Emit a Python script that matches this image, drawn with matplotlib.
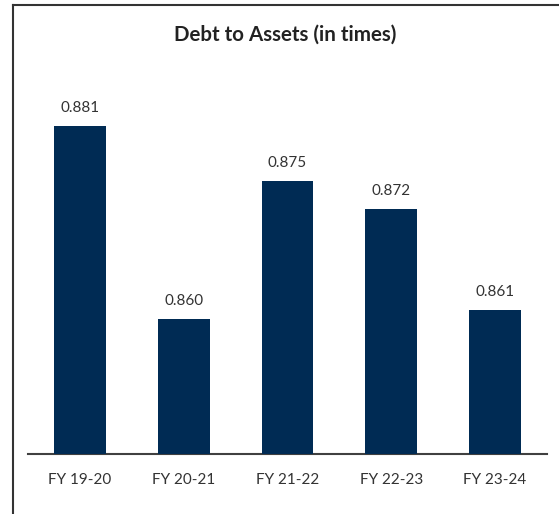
import numpy as np
import matplotlib.pyplot as plt
from matplotlib.lines import Line2D

plt.rcParams['font.family'] = ['Lato', 'DejaVu Sans']

years = ['FY 19-20', 'FY 20-21', 'FY 21-22', 'FY 22-23', 'FY 23-24']
debt_to_assets = [0.881, 0.860, 0.875, 0.872, 0.861]

bar_color = '#002b54'
text_color = '#333333'

fig = plt.figure(figsize=(5.59, 5.14), dpi=100)
ax = fig.add_axes([28 / 559, 60 / 514, 519 / 559, 354 / 514])

x = np.arange(len(years))
bars = ax.bar(x, debt_to_assets, width=0.5, color=bar_color, zorder=2)

for xi, v in zip(x, debt_to_assets):
    ax.annotate(f'{v:.3f}', (xi, v), xytext=(0, 8), textcoords='offset points',
                ha='center', va='bottom', fontsize=11, color=text_color)

ax.set_xlim(-0.5, 4.5)
ax.set_ylim(0.8454, 0.8838)
ax.set_xticks(x)
ax.set_xticklabels(years, fontsize=11, color=text_color)
ax.tick_params(axis='x', length=0, pad=14)
ax.set_yticks([])
for s in ['top', 'right', 'left']:
    ax.spines[s].set_visible(False)
ax.spines['bottom'].set_color('#404040')
ax.spines['bottom'].set_linewidth(1.5)
ax.spines['bottom'].set_zorder(1)

fig.text(285.5 / 559, 1 - 35 / 514, 'Debt to Assets (in times)', ha='center', va='center',
         fontsize=14.8, fontweight='bold', color='#222222')

# frame around the chart (only top and left edges are visible in the crop)
fig.add_artist(Line2D([13 / 559, 13 / 559], [0, 1 - 5 / 514], color='#333333', lw=1.5))
fig.add_artist(Line2D([13 / 559, 1], [1 - 5 / 514, 1 - 5 / 514], color='#333333', lw=1.5))

fig.savefig('out.png', dpi=100)
